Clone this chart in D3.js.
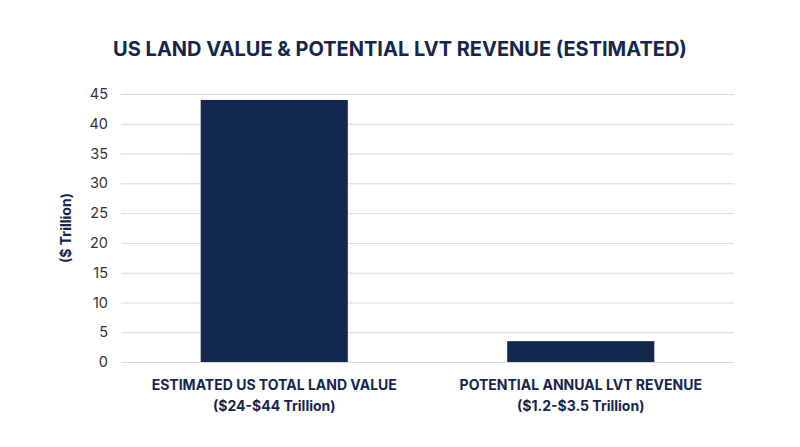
<!DOCTYPE html>
<html>
<head>
<meta charset="UTF-8">
<title>US Land Value & Potential LVT Revenue</title>
<script src="https://cdn.jsdelivr.net/npm/d3@7/dist/d3.min.js"></script>
<style>
body { margin: 0; background: #fff; font-family: Inter, "Open Sans", sans-serif; }
</style>
</head>
<body>
<script>
// data
var categories = ["ESTIMATED US TOTAL LAND VALUE", "POTENTIAL ANNUAL LVT REVENUE"];
var subLabels = ["($24-$44 Trillion)", "($1.2-$3.5 Trillion)"];
var values = [44, 3.5];
var yTicks = [0, 5, 10, 15, 20, 25, 30, 35, 40, 45];

var W = 800, H = 447;
var margin = { top: 94, right: 66, bottom: 85, left: 121 };
var width = W - margin.left - margin.right;
var height = H - margin.top - margin.bottom;
var navy = "#13284f";
var font = "Inter, 'Open Sans', sans-serif";

var svg = d3.select("body").append("svg")
  .attr("width", W)
  .attr("height", H)
  .attr("font-family", font);

// title
svg.append("text")
  .attr("x", W / 2)
  .attr("y", 56)
  .attr("text-anchor", "middle")
  .attr("font-size", 20)
  .attr("font-weight", "bold")
  .attr("fill", "#15264d")
  .text("US LAND VALUE & POTENTIAL LVT REVENUE (ESTIMATED)");

var g = svg.append("g")
  .attr("transform", "translate(" + margin.left + "," + margin.top + ")");

var x = d3.scaleBand()
  .domain(categories)
  .range([0, width])
  .paddingInner(0.52)
  .paddingOuter(0.26);

var y = d3.scaleLinear()
  .domain([0, 45])
  .range([height, 0]);

// grid
g.append("g")
  .call(d3.axisLeft(y).tickValues(yTicks).tickSize(-width).tickPadding(13))
  .call(function(ax) {
    ax.select(".domain").remove();
    ax.selectAll(".tick line").attr("stroke", "#d9d9d9").attr("stroke-width", 1);
    ax.selectAll(".tick text")
      .attr("font-size", 14.5)
      .attr("fill", "#333")
      .attr("font-family", font);
  });

// bars
g.selectAll("rect.bar")
  .data(values)
  .enter()
  .append("rect")
  .attr("class", "bar")
  .attr("x", function(d, i) { return x(categories[i]); })
  .attr("y", function(d) { return y(d); })
  .attr("width", x.bandwidth())
  .attr("height", function(d) { return height - y(d); })
  .attr("fill", navy);

// category labels
var lab = g.selectAll("text.cat")
  .data(categories)
  .enter()
  .append("text")
  .attr("class", "cat")
  .attr("text-anchor", "middle")
  .attr("font-size", 14)
  .attr("font-weight", "bold")
  .attr("fill", "#15264d")
  .attr("transform", function(d) {
    return "translate(" + (x(d) + x.bandwidth() / 2) + "," + (height + 28) + ")";
  });
lab.append("tspan").attr("x", 0).attr("y", 0).text(function(d) { return d; });
lab.append("tspan").attr("x", 0).attr("y", 21).text(function(d, i) { return subLabels[i]; });

// y axis title
svg.append("text")
  .attr("transform", "translate(71," + (margin.top + height / 2) + ") rotate(-90)")
  .attr("text-anchor", "middle")
  .attr("font-size", 14)
  .attr("font-weight", "bold")
  .attr("fill", "#15264d")
  .text("($ Trillion)");
</script>
</body>
</html>
